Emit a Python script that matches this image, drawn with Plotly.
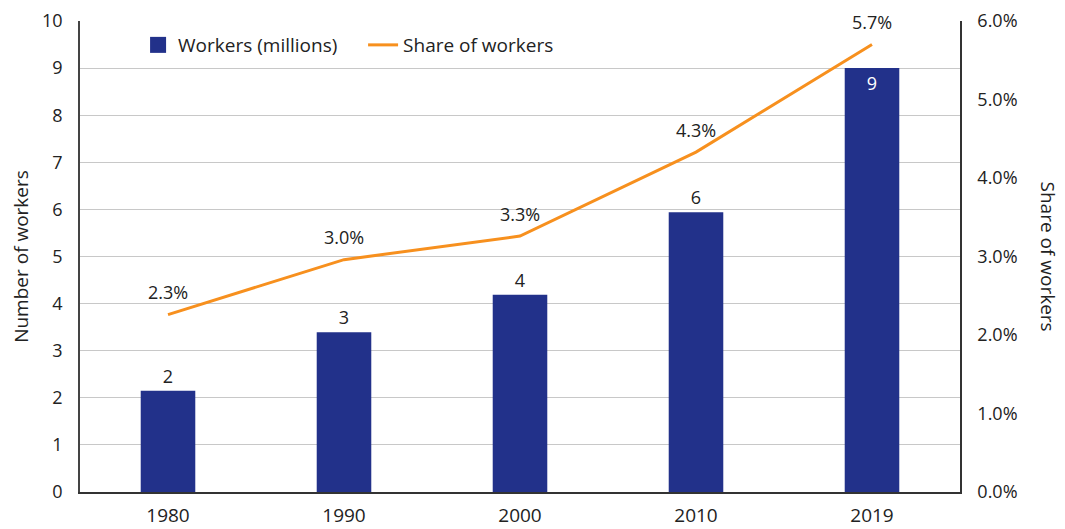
import plotly.graph_objects as go

years = ["1980", "1990", "2000", "2010", "2019"]
workers_millions = [2.15, 3.39, 4.19, 5.94, 9.0]
share_pct = [2.26, 2.96, 3.26, 4.33, 5.70]
bar_text_pos = ["outside", "outside", "outside", "outside", "inside"]

FONT = "Open Sans, Noto Sans, sans-serif"
NAVY = "#22318a"
ORANGE = "#f7901e"
FS = 18

fig = go.Figure()
fig.add_trace(go.Bar(
    x=years, y=workers_millions, name="Workers (millions)", showlegend=False,
    marker=dict(color=NAVY, line=dict(width=0)),
    width=0.31,
    texttemplate="%{y:.0f}", textposition=bar_text_pos,
    insidetextanchor="end",
    insidetextfont=dict(color="white", size=FS, family=FONT),
    outsidetextfont=dict(color="#222", size=FS, family=FONT),
    cliponaxis=False,
))
# legend entry for bars (larger square swatch)
fig.add_trace(go.Scatter(
    x=[None], y=[None], name="Workers (millions)", mode="markers",
    marker=dict(symbol="square", size=20, color=NAVY),
))
fig.add_trace(go.Scatter(
    x=years, y=share_pct, name="Share of workers", yaxis="y2",
    mode="lines", line=dict(color=ORANGE, width=3),
    cliponaxis=False, hoverinfo="skip",
))
fig.add_trace(go.Scatter(
    x=years, y=share_pct, yaxis="y2", showlegend=False,
    mode="markers+text", marker=dict(size=16, opacity=0, color=ORANGE),
    text=[f"{v:.1f}%" for v in share_pct], textposition="top center",
    textfont=dict(color="#222", size=FS, family=FONT),
    cliponaxis=False, hovertemplate="%{x}: %{y:.1f}%<extra></extra>",
))

fig.update_layout(
    width=1065, height=529,
    margin=dict(l=72, r=113, t=13, b=45, autoexpand=False),
    paper_bgcolor="white", plot_bgcolor="white",
    font=dict(family=FONT, size=FS, color="#222"),
    showlegend=True,
    legend=dict(orientation="h", x=0.066, y=0.949, xanchor="left", yanchor="middle",
                bgcolor="rgba(0,0,0,0)", font=dict(size=19), itemwidth=30,
                entrywidth=180, entrywidthmode="pixels"),
    bargap=0.69,
    xaxis=dict(type="category", showgrid=False, showline=True, linecolor="#333",
               linewidth=1.5, ticks="", tickfont=dict(size=19), ticklabelstandoff=5,
               automargin=False),
    yaxis=dict(range=[0, 10], dtick=1, showgrid=True, gridcolor="#c8c8c8",
               gridwidth=1, showline=True, linecolor="#444", linewidth=1.5,
               ticks="", tickfont=dict(size=FS), zeroline=False, ticklabelstandoff=12,
               ticklabeloverflow="allow", automargin=False,
               title=dict(text="Number of workers", font=dict(size=19), standoff=29)),
    yaxis2=dict(range=[0, 6], dtick=1, overlaying="y", side="right",
                showgrid=False, showline=True, linecolor="#333", linewidth=1.5,
                ticks="", ticksuffix="%", tickformat=".1f", ticklabelstandoff=12,
                ticklabeloverflow="allow", automargin=False,
                tickfont=dict(size=FS), zeroline=False),
)
fig.add_annotation(text="Share of workers", textangle=90, xref="paper", yref="paper",
                   x=1.0, xshift=103, y=0.5, showarrow=False,
                   font=dict(size=19, family=FONT, color="#222"))

fig.write_html("out.html")
